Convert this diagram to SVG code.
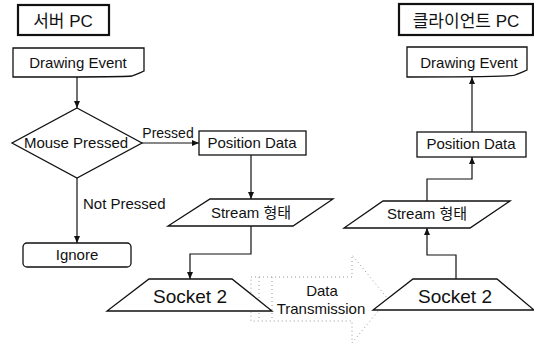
<svg xmlns="http://www.w3.org/2000/svg" width="534" height="345" viewBox="0 0 534 345">
<defs>
<marker id="ah" markerWidth="8" markerHeight="6" refX="7" refY="3" orient="auto" markerUnits="userSpaceOnUse">
<path d="M0,0 L7,3 L0,6 Z" fill="#111"/>
</marker>
<style>
.s{fill:#fff;stroke:#111;stroke-width:1.3}
.t{fill:#fff;stroke:#111;stroke-width:2.2}
.c{fill:none;stroke:#111;stroke-width:1.2;marker-end:url(#ah)}
.d{fill:none;stroke:#999;stroke-width:1;stroke-dasharray:1 3}
text{font-family:"Liberation Sans","Noto Sans CJK KR",Arial,sans-serif;font-size:15px;fill:#111;text-anchor:middle}
.k{font-size:17px}
.b{font-size:19px}
.l{text-anchor:start}
</style>
</defs>
<rect width="534" height="345" fill="#fff"/>
<g id="transmission">
<path class="d" d="M251,277 H352 V255 L388,299 L352,343 V321 H251 Z"/>
<path class="d" d="M259,277 V321 M272,277 V321"/>
<text x="322" y="296">Data</text>
<text x="321" y="314">Transmission</text>
</g>
<g id="connectors">
<path class="c" d="M77,77 V108"/>
<path class="c" d="M142,143 H199"/>
<path class="c" d="M77,178 V243"/>
<path class="c" d="M251,155 V199"/>
<path class="c" d="M251,226 V254 H190 V279"/>
<path class="c" d="M456,279 V255 H427 V228"/>
<path class="c" d="M427,201 V179 H472 V157"/>
<path class="c" d="M472,132 V77"/>
<text x="168" y="138" style="font-size:14px">Pressed</text>
<text class="l" x="83" y="209">Not Pressed</text>
</g>
<g id="server-title">
<rect class="t" x="18" y="5" width="91" height="30"/>
<text class="k" x="63" y="27">서버 PC</text>
</g>
<g id="client-title">
<rect class="t" x="399" y="4" width="134" height="31"/>
<text class="k" x="466" y="27">클라이언트 PC</text>
</g>
<g id="server-drawing-event">
<path class="s" d="M13,48 H144 V71 C140,73 137,74 132,76 C128,77 80,77 13,77 Z"/>
<text x="78" y="68">Drawing Event</text>
</g>
<g id="mouse-pressed">
<path class="s" d="M77,108 L142,143 L77,178 L12,143 Z"/>
<text x="76" y="148">Mouse Pressed</text>
</g>
<g id="ignore">
<rect class="s" x="23" y="243" width="108" height="24" rx="4"/>
<text x="77" y="260">Ignore</text>
</g>
<g id="server-position-data">
<rect class="s" x="199" y="131" width="107" height="24"/>
<text x="252" y="148">Position Data</text>
</g>
<g id="server-stream">
<path class="s" d="M210,199 H333 L293,226 H168 Z"/>
<text x="251" y="218">Stream 형태</text>
</g>
<g id="server-socket">
<path class="s" d="M149,279 H232 L272,311 H107 Z"/>
<text class="b" x="190" y="303">Socket 2</text>
</g>
<g id="client-socket">
<path class="s" d="M413,279 H497 L534,310 H373 Z"/>
<text class="b" x="455" y="303">Socket 2</text>
</g>
<g id="client-stream">
<path class="s" d="M383,201 H510 L470,228 H344 Z"/>
<text x="427" y="219">Stream 형태</text>
</g>
<g id="client-position-data">
<rect class="s" x="417" y="132" width="109" height="25"/>
<text x="471" y="149">Position Data</text>
</g>
<g id="client-drawing-event">
<path class="s" d="M407,47 H527 V70 C523,72 520,73 515,75 C511,77 470,77 407,77 Z"/>
<text x="469" y="68">Drawing Event</text>
</g>
</svg>
